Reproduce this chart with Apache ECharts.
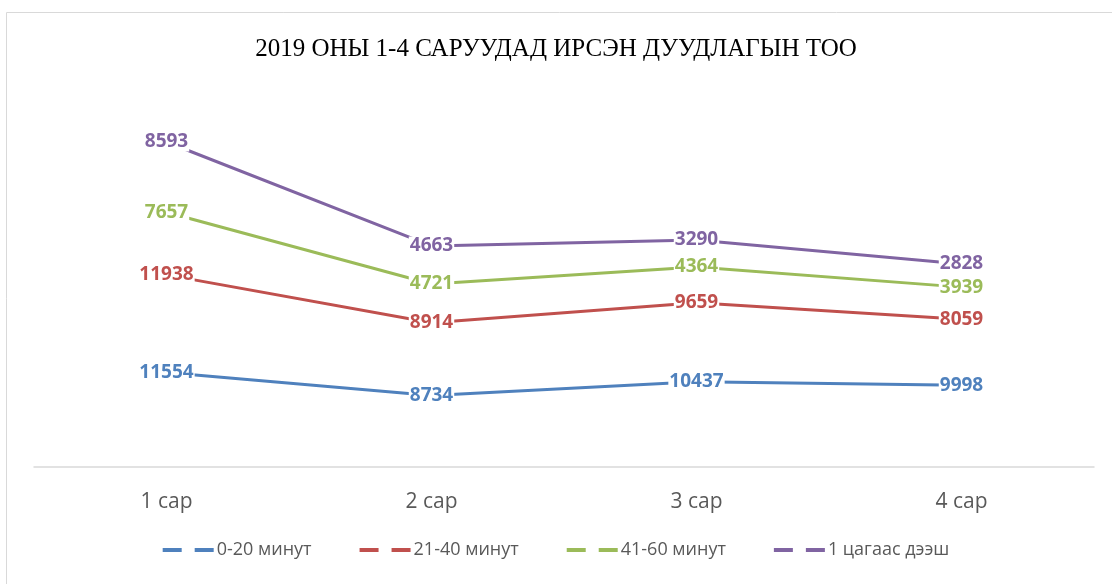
<!DOCTYPE html>
<html>
<head>
<meta charset="utf-8">
<script src="https://cdn.jsdelivr.net/npm/echarts@6/dist/echarts.min.js"></script>
<style>
  html, body { margin: 0; padding: 0; background: #fff; }
  #main { width: 1112px; height: 584px; }
</style>
</head>
<body>
<div id="main"></div>
<script>
var months = ["1 сар", "2 сар", "3 сар", "4 сар"];
var seriesNames = ["0-20 минут", "21-40 минут", "41-60 минут", "1 цагаас дээш"];
var colors = ["#4F81BD", "#C0504D", "#9BBB59", "#8064A2"];
var min0to20 = [11554, 8734, 10437, 9998];
var min21to40 = [11938, 8914, 9659, 8059];
var min41to60 = [7657, 4721, 4364, 3939];
var hourPlus = [8593, 4663, 3290, 2828];
var allValues = [min0to20, min21to40, min41to60, hourPlus];

var myChart = echarts.init(document.getElementById("main"));

var series = [];
for (var i = 0; i < seriesNames.length; i++) {
  series.push({
    name: seriesNames[i],
    type: "line",
    stack: "total",
    data: allValues[i],
    symbol: "circle",
    symbolSize: 1,
    lineStyle: { width: 3, color: colors[i] },
    itemStyle: { color: colors[i] },
    label: {
      show: true,
      position: "inside",
      color: colors[i],
      fontFamily: "Open Sans",
      fontWeight: "bold",
      fontSize: 19,
      backgroundColor: "#fff",
      padding: [0, 1]
    }
  });
}

myChart.setOption({
  animation: false,
  color: colors,
  title: {
    text: "2019 ОНЫ 1-4 САРУУДАД ИРСЭН ДУУДЛАГЫН ТОО",
    left: "center",
    top: 32,
    textStyle: {
      fontFamily: "Liberation Serif",
      fontWeight: "normal",
      fontSize: 25,
      color: "#000"
    }
  },
  graphic: [{
    type: "rect",
    shape: { x: 6.5, y: 12.5, width: 1120, height: 600 },
    style: { fill: "none", stroke: "#d9d9d9", lineWidth: 1 }
  }],
  legend: {
    bottom: 20,
    left: "center",
    itemWidth: 51,
    itemHeight: 4,
    itemGap: 48,
    icon: "path://M0,0h19v4h-19z M32,0h19v4h-19z",
    textStyle: { fontFamily: "Open Sans", fontSize: 18, color: "#595959", padding: [0, 0, 0, -2] },
    data: seriesNames
  },
  grid: { left: 34, right: 18, top: 99, bottom: 117 },
  xAxis: {
    type: "category",
    data: months,
    axisLine: { lineStyle: { color: "#d9d9d9", width: 1.5 } },
    axisTick: { show: false },
    axisLabel: { margin: 25, fontFamily: "Open Sans", fontSize: 21, color: "#595959" }
  },
  yAxis: {
    type: "value",
    min: 0,
    max: 45000,
    show: false,
    splitLine: { show: false }
  },
  series: series
});
</script>
</body>
</html>
